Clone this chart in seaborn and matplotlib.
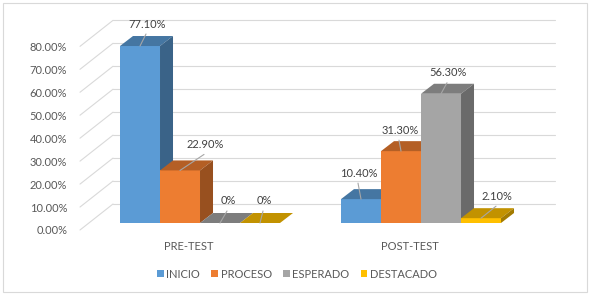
import matplotlib
matplotlib.use("Agg")
import numpy as np
import pandas as pd
import seaborn as sns
import matplotlib.pyplot as plt
from matplotlib import transforms
from matplotlib.patches import Polygon, Rectangle
from matplotlib.colors import to_rgb

# ---------------- data ----------------
groups = ["PRE-TEST", "POST-TEST"]
levels = ["INICIO", "PROCESO", "ESPERADO", "DESTACADO"]
pre_test = [77.1, 22.9, 0.0, 0.0]
post_test = [10.4, 31.3, 56.3, 2.1]
pre_labels = ["77.10%", "22.90%", "0%", "0%"]
post_labels = ["10.40%", "31.30%", "56.30%", "2.10%"]
y_ticks = [0, 10, 20, 30, 40, 50, 60, 70, 80]
y_tick_labels = ["0.00%", "10.00%", "20.00%", "30.00%", "40.00%",
                 "50.00%", "60.00%", "70.00%", "80.00%"]

# ---------------- style / layout ----------------
colors = ["#5B9BD5", "#ED7D31", "#A5A5A5", "#FFC000"]
# value-label offsets (pixels, relative to bar front-top centre)
pre_off = [(7, 22), (25, 26), (8, 22), (4, 22)]
post_off = [(-2, 26), (-1, 21), (7, 21), (16, 22)]
DEPTH_X, DEPTH_Y = 13, 10      # bar depth in px
WALL_Y = 19                    # back-wall grid shift in px
FONT = ["Lato", "DejaVu Sans"]
TXT = "#595959"

sns.set_style("white")
plt.rcParams["font.family"] = FONT

df = pd.DataFrame({
    "Grupo": [g for g in groups for _ in levels],
    "Nivel": levels * len(groups),
    "Valor": pre_test + post_test,
})

W, H = 594, 297
fig = plt.figure(figsize=(W / 100, H / 100), dpi=100)
ax = fig.add_axes([113 / W, 74 / H, (555 - 113) / W, 206.6 / H])

sns.barplot(data=df, x="Grupo", y="Valor", hue="Nivel", order=groups,
            hue_order=levels, palette=colors, saturation=1, width=0.724,
            errorbar=None, ax=ax, linewidth=0)

ax.set_xlim(-0.3937, 1.6063)
ax.set_ylim(0, 90)
for s in ax.spines.values():
    s.set_visible(False)
ax.set_xlabel("")
ax.set_ylabel("")
ax.grid(False)

# y ticks (front labels)
ax.set_yticks(y_ticks)
ax.set_yticklabels(y_tick_labels)
ax.tick_params(axis="y", length=0, pad=33, labelsize=8, labelcolor=TXT)
ax.tick_params(axis="x", length=0, pad=13, labelsize=8, labelcolor=TXT)
down = transforms.ScaledTranslation(0, -7 / 100, fig.dpi_scale_trans)
for lab in ax.get_yticklabels():
    lab.set_transform(lab.get_transform() + down)
left = transforms.ScaledTranslation(-11 / 100, 0, fig.dpi_scale_trans)
for lab in ax.get_xticklabels():
    lab.set_transform(lab.get_transform() + left)

# back-wall gridlines and the diagonal side-wall lines
blend = transforms.blended_transform_factory(ax.transAxes, ax.transData)
up = transforms.ScaledTranslation(0, WALL_Y / 100, fig.dpi_scale_trans)
for v in y_ticks:
    ax.plot([0, 1], [v, v], color="#D9D9D9", lw=0.8,
            transform=blend + up, clip_on=False, zorder=0)
    x0, y0 = blend.transform((0, v))
    ax.plot([x0 - 33, x0], [y0 - 7, y0 + WALL_Y], color="#D9D9D9", lw=0.8,
            transform=transforms.IdentityTransform(), clip_on=False, zorder=0)

# pseudo-3D faces
ppu = ax.transData.transform((1, 1)) - ax.transData.transform((0, 0))
ddx, ddy = DEPTH_X / ppu[0], DEPTH_Y / ppu[1]


def shade(c, f):
    r, g, b = to_rgb(c)
    return (r * f, g * f, b * f)


bars = []
for li, cont in enumerate(ax.containers):
    offs = [pre_off[li], post_off[li]]
    labs = [pre_labels[li], post_labels[li]]
    for gi, p in enumerate(cont.patches):
        bars.append((p.get_x(), p, colors[li], offs[gi], labs[gi]))
bars.sort(key=lambda t: t[0])

for k, (_, p, col, off, lab) in enumerate(bars):
    z = 2 + 3 * k
    p.set_zorder(z)
    x0, w, h = p.get_x(), p.get_width(), p.get_height()
    top = Polygon([(x0, h), (x0 + w, h), (x0 + w + ddx, h + ddy), (x0 + ddx, h + ddy)],
                  closed=True, facecolor=shade(col, 0.76), edgecolor="none",
                  zorder=z + 1, clip_on=False)
    side = Polygon([(x0 + w, 0), (x0 + w + ddx, ddy), (x0 + w + ddx, h + ddy), (x0 + w, h)],
                   closed=True, facecolor=shade(col, 0.64), edgecolor="none",
                   zorder=z + 1, clip_on=False)
    ax.add_patch(top)
    ax.add_patch(side)
    cx, cy = ax.transData.transform((x0 + w / 2, h))
    tx, ty = cx + off[0], cy + off[1]
    ax.plot([cx, tx - 1], [cy, ty - 10], color="#A6A6A6", lw=0.8,
            transform=transforms.IdentityTransform(), zorder=200, clip_on=False)
    ax.text(tx, ty, lab, transform=transforms.IdentityTransform(),
            ha="center", va="center", fontsize=8, color="#404040", zorder=201)

# legend
handles, labels = ax.get_legend_handles_labels()
if ax.legend_ is not None:
    ax.legend_.remove()
fig.legend(handles, labels, loc="center", bbox_to_anchor=(0.5, 1 - 274 / H),
           ncol=4, frameon=False, fontsize=8, labelcolor=TXT,
           handlelength=0.6, handleheight=0.6, handletextpad=0.25,
           columnspacing=1.0, borderaxespad=0)

fig.add_artist(Rectangle((3 / W, 5 / H), 584 / W, 289 / H, transform=fig.transFigure,
                         fill=False, edgecolor="#D9D9D9", lw=0.8))

fig.savefig("out.png", dpi=100)
